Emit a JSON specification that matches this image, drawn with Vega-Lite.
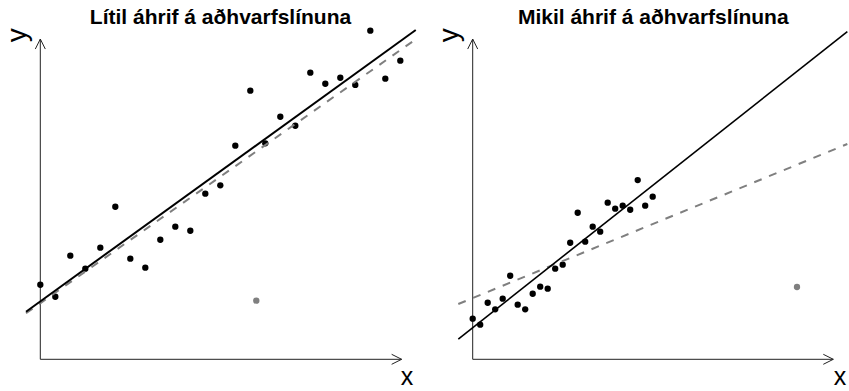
{
  "$schema": "https://vega.github.io/schema/vega-lite/v6.json",
  "padding": 0,
  "autosize": {"type": "pad"},
  "bounds": "flush",
  "spacing": 16.5,
  "background": "white",
  "config": {
    "view": {"stroke": null},
    "title": {"font": "Liberation Sans", "fontSize": 21, "fontWeight": "bold", "color": "black", "anchor": "middle", "frame": "group", "offset": -28, "dx": 12.5},
    "text": {"font": "Liberation Sans", "color": "black"}
  },
  "resolve": {"scale": {"x": "independent", "y": "independent", "color": "independent"}},
  "datasets": {
    "left_points": [
      {"x": 1, "y": 4.97, "hopur": "gögn"}, {"x": 2, "y": 4.17, "hopur": "gögn"}, {"x": 3, "y": 6.91, "hopur": "gögn"},
      {"x": 4, "y": 6.04, "hopur": "gögn"}, {"x": 5, "y": 7.44, "hopur": "gögn"}, {"x": 6, "y": 10.17, "hopur": "gögn"},
      {"x": 7, "y": 6.71, "hopur": "gögn"}, {"x": 8, "y": 6.11, "hopur": "gögn"}, {"x": 9, "y": 7.97, "hopur": "gögn"},
      {"x": 10, "y": 8.84, "hopur": "gögn"}, {"x": 11, "y": 8.57, "hopur": "gögn"}, {"x": 12, "y": 11.04, "hopur": "gögn"},
      {"x": 13, "y": 11.6, "hopur": "gögn"}, {"x": 14, "y": 14.24, "hopur": "gögn"}, {"x": 15, "y": 17.91, "hopur": "gögn"},
      {"x": 16, "y": 14.4, "hopur": "gögn"}, {"x": 17, "y": 16.17, "hopur": "gögn"}, {"x": 18, "y": 15.57, "hopur": "gögn"},
      {"x": 19, "y": 19.11, "hopur": "gögn"}, {"x": 20, "y": 18.37, "hopur": "gögn"}, {"x": 21, "y": 18.77, "hopur": "gögn"},
      {"x": 22, "y": 18.29, "hopur": "gögn"}, {"x": 23, "y": 21.91, "hopur": "gögn"}, {"x": 24, "y": 18.71, "hopur": "gögn"},
      {"x": 25, "y": 19.91, "hopur": "gögn"},
      {"x": 15.4, "y": 3.91, "hopur": "útlagi"}
    ],
    "right_points": [
      {"x": 1, "y": 2.71, "hopur": "gögn"}, {"x": 2, "y": 2.31, "hopur": "gögn"}, {"x": 3, "y": 3.77, "hopur": "gögn"},
      {"x": 4, "y": 3.33, "hopur": "gögn"}, {"x": 5, "y": 4.04, "hopur": "gögn"}, {"x": 6, "y": 5.57, "hopur": "gögn"},
      {"x": 7, "y": 3.64, "hopur": "gögn"}, {"x": 8, "y": 3.33, "hopur": "gögn"}, {"x": 9, "y": 4.37, "hopur": "gögn"},
      {"x": 10, "y": 4.84, "hopur": "gögn"}, {"x": 11, "y": 4.71, "hopur": "gögn"}, {"x": 12, "y": 6.04, "hopur": "gögn"},
      {"x": 13, "y": 6.31, "hopur": "gögn"}, {"x": 14, "y": 7.77, "hopur": "gögn"}, {"x": 15, "y": 9.77, "hopur": "gögn"},
      {"x": 16, "y": 7.84, "hopur": "gögn"}, {"x": 17, "y": 8.84, "hopur": "gögn"}, {"x": 18, "y": 8.51, "hopur": "gögn"},
      {"x": 19, "y": 10.44, "hopur": "gögn"}, {"x": 20, "y": 10.04, "hopur": "gögn"}, {"x": 21, "y": 10.24, "hopur": "gögn"},
      {"x": 22, "y": 9.97, "hopur": "gögn"}, {"x": 23, "y": 11.95, "hopur": "gögn"}, {"x": 24, "y": 10.24, "hopur": "gögn"},
      {"x": 25, "y": 10.84, "hopur": "gögn"},
      {"x": 44.24, "y": 4.82, "hopur": "útlagi"}
    ],
    "left_fits": [
      {"fit": "án útlaga", "x": 0.047, "y": 3.173}, {"fit": "án útlaga", "x": 26.03, "y": 21.953},
      {"fit": "með útlaga", "x": 0.047, "y": 3.067}, {"fit": "með útlaga", "x": 26.03, "y": 21.333}
    ],
    "right_fits": [
      {"fit": "án útlaga", "x": -0.92, "y": 1.353}, {"fit": "án útlaga", "x": 50.95, "y": 21.84},
      {"fit": "með útlaga", "x": -0.92, "y": 3.687}, {"fit": "með útlaga", "x": 50.95, "y": 14.353}
    ],
    "left_axes": [
      {"ax": "x", "x": 1, "y": 0, "x2": 25.09, "y2": 0},
      {"ax": "y", "x": 1, "y": 0, "x2": 1, "y2": 21.35}
    ],
    "right_axes": [
      {"ax": "x", "x": 1, "y": 0, "x2": 49.08, "y2": 0},
      {"ax": "y", "x": 1, "y": 0, "x2": 1, "y2": 21.35}
    ],
    "left_labels": [
      {"label": "x", "x": 25.45, "y": -1.72},
      {"label": "y", "x": -0.47, "y": 21.6}
    ],
    "right_labels": [
      {"label": "x", "x": 49.97, "y": -1.72},
      {"label": "y", "x": -2.07, "y": 21.6}
    ]
  },
  "hconcat": [
    {
      "title": "Lítil áhrif á aðhvarfslínuna",
      "width": 416,
      "height": 391,
      "encoding": {
        "x": {"field": "x", "type": "quantitative", "axis": null, "scale": {"domain": [-1.6867, 26.047], "nice": false, "zero": false}},
        "y": {"field": "y", "type": "quantitative", "axis": null, "scale": {"domain": [-2.113, 23.953], "nice": false, "zero": false}}
      },
      "layer": [
        {
          "data": {"name": "left_axes"},
          "mark": {"type": "rule", "color": "#222222", "strokeWidth": 1},
          "encoding": {"x2": {"field": "x2"}, "y2": {"field": "y2"}}
        },
        {
          "data": {"name": "left_axes"},
          "transform": [{"filter": "datum.ax === 'x'"}, {"calculate": "datum.x2", "as": "tip"}],
          "mark": {"type": "point", "shape": "M-2,-1L0,0L-2,1", "size": 100, "filled": false, "color": "#222222", "strokeWidth": 1, "opacity": 1},
          "encoding": {"x": {"field": "tip", "type": "quantitative"}}
        },
        {
          "data": {"name": "left_axes"},
          "transform": [{"filter": "datum.ax === 'y'"}, {"calculate": "datum.y2", "as": "tip"}],
          "mark": {"type": "point", "shape": "M-1,2L0,0L1,2", "size": 100, "filled": false, "color": "#222222", "strokeWidth": 1, "opacity": 1},
          "encoding": {"y": {"field": "tip", "type": "quantitative"}}
        },
        {
          "data": {"name": "left_points"},
          "mark": {"type": "circle", "size": 40, "opacity": 1},
          "encoding": {
            "color": {"field": "hopur", "type": "nominal", "legend": null, "scale": {"domain": ["gögn", "útlagi"], "range": ["black", "#7f7f7f"]}}
          }
        },
        {
          "data": {"name": "left_fits"},
          "transform": [{"filter": "datum.fit === 'með útlaga'"}],
          "mark": {"type": "line", "color": "#7f7f7f", "strokeWidth": 2, "strokeDash": [8, 8]},
          "encoding": {}
        },
        {
          "data": {"name": "left_fits"},
          "transform": [{"filter": "datum.fit === 'án útlaga'"}],
          "mark": {"type": "line", "color": "black", "strokeWidth": 2},
          "encoding": {}
        },
        {
          "data": {"name": "left_labels"},
          "transform": [{"filter": "datum.label === 'x'"}],
          "mark": {"type": "text", "fontSize": 25, "align": "center", "baseline": "alphabetic"},
          "encoding": {"text": {"field": "label"}}
        },
        {
          "data": {"name": "left_labels"},
          "transform": [{"filter": "datum.label === 'y'"}],
          "mark": {"type": "text", "fontSize": 28, "align": "center", "baseline": "middle", "angle": 270},
          "encoding": {"text": {"field": "label"}}
        }
      ]
    },
    {
      "title": "Mikil áhrif á aðhvarfslínuna",
      "width": 416.5,
      "height": 391,
      "encoding": {
        "x": {"field": "x", "type": "quantitative", "axis": null, "scale": {"domain": [-4.36, 51.173], "nice": false, "zero": false}},
        "y": {"field": "y", "type": "quantitative", "axis": null, "scale": {"domain": [-2.113, 23.953], "nice": false, "zero": false}}
      },
      "layer": [
        {
          "data": {"name": "right_axes"},
          "mark": {"type": "rule", "color": "#222222", "strokeWidth": 1},
          "encoding": {"x2": {"field": "x2"}, "y2": {"field": "y2"}}
        },
        {
          "data": {"name": "right_axes"},
          "transform": [{"filter": "datum.ax === 'x'"}, {"calculate": "datum.x2", "as": "tip"}],
          "mark": {"type": "point", "shape": "M-2,-1L0,0L-2,1", "size": 100, "filled": false, "color": "#222222", "strokeWidth": 1, "opacity": 1},
          "encoding": {"x": {"field": "tip", "type": "quantitative"}}
        },
        {
          "data": {"name": "right_axes"},
          "transform": [{"filter": "datum.ax === 'y'"}, {"calculate": "datum.y2", "as": "tip"}],
          "mark": {"type": "point", "shape": "M-1,2L0,0L1,2", "size": 100, "filled": false, "color": "#222222", "strokeWidth": 1, "opacity": 1},
          "encoding": {"y": {"field": "tip", "type": "quantitative"}}
        },
        {
          "data": {"name": "right_points"},
          "mark": {"type": "circle", "size": 40, "opacity": 1},
          "encoding": {
            "color": {"field": "hopur", "type": "nominal", "legend": null, "scale": {"domain": ["gögn", "útlagi"], "range": ["black", "#7f7f7f"]}}
          }
        },
        {
          "data": {"name": "right_fits"},
          "transform": [{"filter": "datum.fit === 'með útlaga'"}],
          "mark": {"type": "line", "color": "#7f7f7f", "strokeWidth": 2, "strokeDash": [8, 8]},
          "encoding": {}
        },
        {
          "data": {"name": "right_fits"},
          "transform": [{"filter": "datum.fit === 'án útlaga'"}],
          "mark": {"type": "line", "color": "black", "strokeWidth": 1.6},
          "encoding": {}
        },
        {
          "data": {"name": "right_labels"},
          "transform": [{"filter": "datum.label === 'x'"}],
          "mark": {"type": "text", "fontSize": 25, "align": "center", "baseline": "alphabetic"},
          "encoding": {"text": {"field": "label"}}
        },
        {
          "data": {"name": "right_labels"},
          "transform": [{"filter": "datum.label === 'y'"}],
          "mark": {"type": "text", "fontSize": 28, "align": "center", "baseline": "middle", "angle": 270},
          "encoding": {"text": {"field": "label"}}
        }
      ]
    }
  ]
}
